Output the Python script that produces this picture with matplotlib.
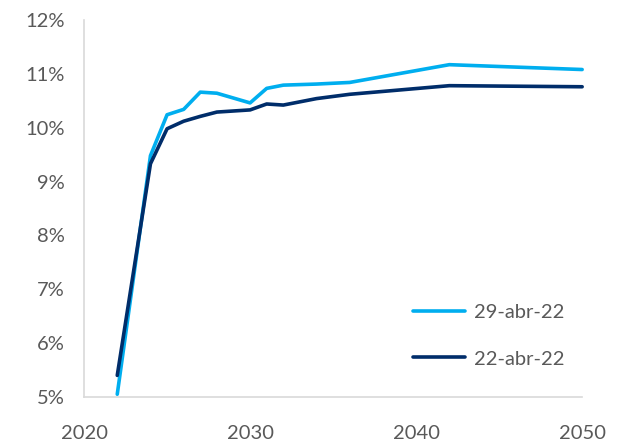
import matplotlib
matplotlib.use("Agg")
import matplotlib.pyplot as plt
from matplotlib.ticker import FuncFormatter

plt.rcParams['font.family'] = ['Lato', 'DejaVu Sans']

# yield curve points (percent) for both dates
years = [2022, 2024, 2025, 2026, 2027, 2028, 2030, 2031, 2032, 2034, 2036, 2042, 2050]
curve_29abr = [5.05, 9.48, 10.24, 10.34, 10.66, 10.64, 10.46, 10.73, 10.79, 10.81, 10.84, 11.17, 11.08]
curve_22abr = [5.40, 9.33, 9.98, 10.12, 10.21, 10.29, 10.33, 10.44, 10.42, 10.54, 10.62, 10.78, 10.76]
labels = ["29-abr-22", "22-abr-22"]

light = "#00AEEF"
dark = "#002D6A"
grey = "#595959"

fig = plt.figure(figsize=(6.18, 4.44), dpi=100)
ax = fig.add_axes([0.136, 0.106, 0.806, 0.849])

ax.plot(years, curve_29abr, color=light, lw=2.6, label=labels[0], solid_capstyle="round", clip_on=False)
ax.plot(years, curve_22abr, color=dark, lw=2.6, label=labels[1], solid_capstyle="round", clip_on=False)

ax.set_xlim(2020, 2050)
ax.set_ylim(5, 12)
ax.set_xticks([2020, 2030, 2040, 2050])
ax.set_yticks(range(5, 13))
ax.yaxis.set_major_formatter(FuncFormatter(lambda v, p: f"{v:.0f}%"))
ax.tick_params(length=0, labelsize=14.5, labelcolor=grey)
ax.tick_params(axis="x", pad=20)
ax.tick_params(axis="y", pad=14)

for side in ["top", "right"]:
    ax.spines[side].set_visible(False)
for side in ["left", "bottom"]:
    ax.spines[side].set_color("#D9D9D9")
    ax.spines[side].set_linewidth(1.2)

leg = ax.legend(loc="lower right", bbox_to_anchor=(1.0, 0.03), frameon=False,
                fontsize=14.5, handlelength=2.6, labelspacing=1.45, handletextpad=0.4)
for t in leg.get_texts():
    t.set_color(grey)

fig.savefig("out.png", dpi=100)
